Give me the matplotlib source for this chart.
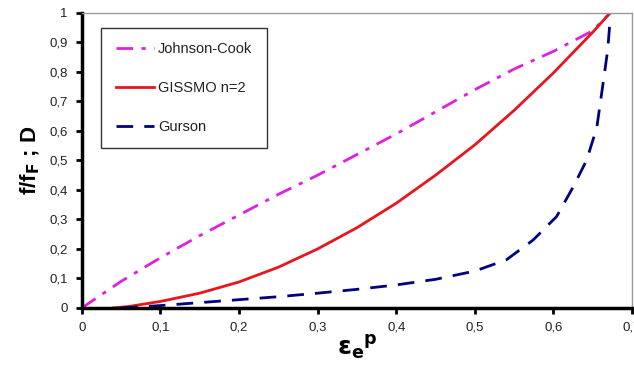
import matplotlib
matplotlib.use("Agg")
import matplotlib.pyplot as plt

plt.rcParams['font.family'] = ['Liberation Sans', 'DejaVu Sans']

# Data
jc_x = [0.0, 0.05, 0.1, 0.15, 0.2, 0.25, 0.3, 0.35, 0.4, 0.45, 0.5, 0.55, 0.6, 0.65, 0.672]
jc_y = [0.0, 0.09, 0.17, 0.245, 0.315, 0.385, 0.45, 0.52, 0.59, 0.665, 0.74, 0.81, 0.87, 0.94, 1.0]

gi_x = [0.04, 0.06, 0.1, 0.15, 0.2, 0.25, 0.3, 0.35, 0.4, 0.45, 0.5, 0.55, 0.6, 0.65, 0.672]
gi_y = [0.0, 0.005, 0.022, 0.05, 0.088, 0.138, 0.2, 0.272, 0.355, 0.45, 0.553, 0.67, 0.797, 0.935, 1.0]

gu_x = [0.05, 0.1, 0.15, 0.2, 0.25, 0.3, 0.35, 0.4, 0.45, 0.5, 0.54, 0.574, 0.604, 0.625, 0.642, 0.655, 0.663, 0.669, 0.672]
gu_y = [0.0, 0.008, 0.018, 0.028, 0.038, 0.05, 0.063, 0.078, 0.097, 0.125, 0.163, 0.23, 0.31, 0.41, 0.5, 0.61, 0.76, 0.875, 0.976]

x_ticks = [0, 0.1, 0.2, 0.3, 0.4, 0.5, 0.6, 0.7]
x_labels = ["0", "0,1", "0,2", "0,3", "0,4", "0,5", "0,6", "0,7"]
y_ticks = [0, 0.1, 0.2, 0.3, 0.4, 0.5, 0.6, 0.7, 0.8, 0.9, 1.0]
y_labels = ["0", "0,1", "0,2", "0,3", "0,4", "0,5", "0,6", "0,7", "0,8", "0,9", "1"]

fig = plt.figure(figsize=(6.34, 3.71), dpi=100)
ax = fig.add_axes([0.129, 0.170, 0.868, 0.795])

ax.plot(jc_x, jc_y, color='#E020E0', lw=2, linestyle=(0, (6, 3, 1.5, 3)), label='Johnson-Cook')
ax.plot(gi_x, gi_y, color='#E8141E', lw=2, linestyle='-', label='GISSMO n=2')
ax.plot(gu_x, gu_y, color='#000080', lw=2, linestyle=(0, (6, 4)), label='Gurson')

ax.set_xlim(0, 0.7)
ax.set_ylim(0, 1)
ax.set_xticks(x_ticks)
ax.set_xticklabels(x_labels)
ax.set_yticks(y_ticks)
ax.set_yticklabels(y_labels)
ax.tick_params(axis='both', labelsize=9.5, width=2, length=4, direction='out', pad=6,
               labelcolor='#222222')

for s in ['left', 'bottom']:
    ax.spines[s].set_linewidth(2.5)
    ax.spines[s].set_color('black')
for s in ['top', 'right']:
    ax.spines[s].set_linewidth(1)
    ax.spines[s].set_color('#999999')

ax.set_ylabel(r'f/f$_\mathbf{F}$ ; D', fontsize=16, fontweight='bold', labelpad=5)
ax.set_xlabel(r'$\mathbf{\varepsilon_e}^{\mathbf{p}}$', fontsize=18, labelpad=0)

leg = ax.legend(loc='upper left', bbox_to_anchor=(0.035, 0.95), frameon=True, fancybox=False,
                fontsize=10.5, handlelength=2.6, handletextpad=0.3, borderpad=1.0, labelspacing=1.7,
                borderaxespad=0)
leg.get_frame().set_edgecolor('black')
leg.get_frame().set_linewidth(1)
for t in leg.get_texts():
    t.set_color('#222222')

fig.savefig('out.png', dpi=100)
